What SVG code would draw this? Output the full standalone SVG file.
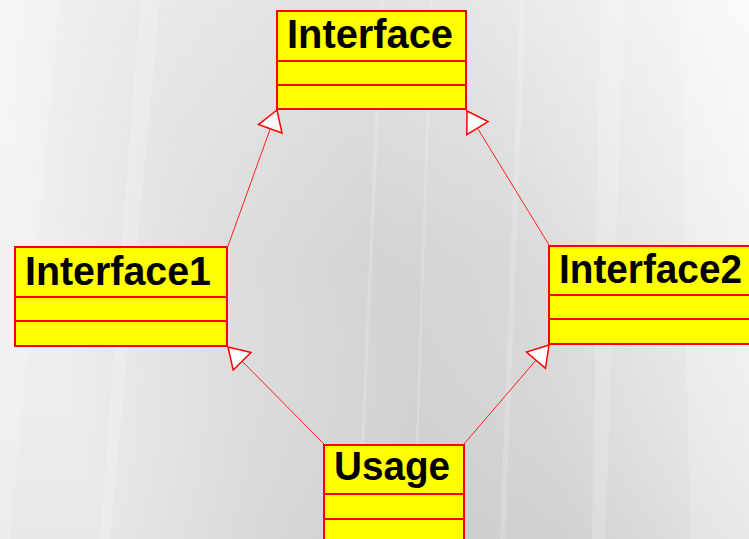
<svg xmlns="http://www.w3.org/2000/svg" width="749" height="539" viewBox="0 0 749 539">
  <defs>
    <linearGradient id="bg" x1="0" y1="0.15" x2="1" y2="0">
      <stop offset="0" stop-color="#efefef"/>
      <stop offset="0.22" stop-color="#dedede"/>
      <stop offset="0.45" stop-color="#d3d3d3"/>
      <stop offset="0.62" stop-color="#d8d8d8"/>
      <stop offset="0.82" stop-color="#e8e8e8"/>
      <stop offset="1" stop-color="#f5f5f5"/>
    </linearGradient>
    <linearGradient id="shade" x1="0" y1="0" x2="0" y2="1">
      <stop offset="0" stop-color="#ffffff" stop-opacity="0.35"/>
      <stop offset="0.5" stop-color="#ffffff" stop-opacity="0"/>
      <stop offset="1" stop-color="#000000" stop-opacity="0.03"/>
    </linearGradient>
    <marker id="tri" viewBox="-2 -14 24 28" refX="20" refY="0" markerWidth="24" markerHeight="28" markerUnits="userSpaceOnUse" orient="auto">
      <path d="M20,0 L0,-12.5 L0,12.5 Z" fill="#ffffff" stroke="#ff0000" stroke-width="1.5"/>
    </marker>
  </defs>
  <style>
    .box { fill: #ffff00; stroke: #ff0000; stroke-width: 2; }
    .div { stroke: #ff0000; stroke-width: 2; }
    .lbl { font-family: "Liberation Sans", Arial, sans-serif; font-weight: bold; font-size: 41px; fill: #000000; }
    .conn { stroke: #ff2020; stroke-width: 1; fill: none; marker-end: url(#tri); }
  </style>
  <rect x="0" y="0" width="749" height="539" fill="url(#bg)"/>
  <rect x="0" y="0" width="749" height="539" fill="url(#shade)"/>
  <g opacity="0.18" fill="#ffffff">
    <polygon points="0,0 60,0 10,539 0,539"/>
    <polygon points="140,0 160,0 110,539 100,539"/>
    <polygon points="600,0 625,0 605,539 592,539"/>
    <polygon points="680,0 749,0 749,539 690,539"/>
    <polygon points="520,0 526,0 505,539 500,539"/>
    <polygon points="380,0 384,0 360,539 357,539"/>
    <polygon points="430,0 433,0 415,539 413,539"/>
  </g>

  <g id="connectors">
    <line class="conn" x1="228" y1="246" x2="277" y2="110"/>
    <line class="conn" x1="549" y1="245" x2="467" y2="111"/>
    <line class="conn" x1="324" y1="444" x2="228" y2="347"/>
    <line class="conn" x1="464" y1="444" x2="549" y2="345"/>
  </g>

  <g id="Interface">
    <rect class="box" x="277" y="11" width="189" height="98"/>
    <line class="div" x1="277" y1="61" x2="466" y2="61"/>
    <line class="div" x1="277" y1="85" x2="466" y2="85"/>
    <text class="lbl" x="287" y="48" textLength="166" lengthAdjust="spacingAndGlyphs">Interface</text>
  </g>

  <g id="Interface1">
    <rect class="box" x="15" y="247" width="212" height="99"/>
    <line class="div" x1="15" y1="297" x2="227" y2="297"/>
    <line class="div" x1="15" y1="321" x2="227" y2="321"/>
    <text class="lbl" x="25" y="285" textLength="186" lengthAdjust="spacingAndGlyphs">Interface1</text>
  </g>

  <g id="Interface2">
    <rect class="box" x="549" y="246" width="215" height="98"/>
    <line class="div" x1="549" y1="295" x2="764" y2="295"/>
    <line class="div" x1="549" y1="319" x2="764" y2="319"/>
    <text class="lbl" x="559" y="283" textLength="183" lengthAdjust="spacingAndGlyphs">Interface2</text>
  </g>

  <g id="Usage">
    <rect class="box" x="324" y="445" width="140" height="110"/>
    <line class="div" x1="324" y1="494" x2="464" y2="494"/>
    <line class="div" x1="324" y1="519" x2="464" y2="519"/>
    <text class="lbl" x="334" y="480" textLength="116" lengthAdjust="spacingAndGlyphs">Usage</text>
  </g>
</svg>
